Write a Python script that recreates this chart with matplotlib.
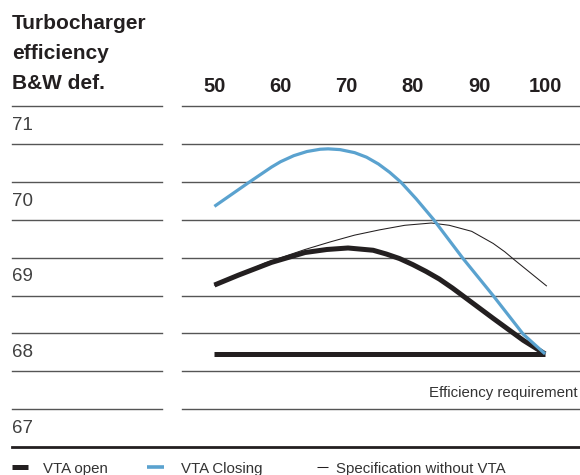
import matplotlib.pyplot as plt

plt.rcParams['font.family'] = ['Liberation Sans', 'DejaVu Sans']

# load (%) on x, turbocharger efficiency on y
load_ticks = [50, 60, 70, 80, 90, 100]
eff_labels = [71, 70, 69, 68, 67]
grid_levels = [71.25, 70.75, 70.25, 69.75, 69.25, 68.75, 68.25, 67.75, 67.25]

vta_open_x = [50, 53.6, 58.65, 63.7, 67, 70.2, 74, 76, 78, 80, 82, 84, 86, 88, 92.15, 96.7, 100]
vta_open_y = [68.89, 69.02, 69.19, 69.32, 69.36, 69.38, 69.35, 69.30, 69.24, 69.16, 69.07, 68.97, 68.85, 68.72, 68.45, 68.16, 67.98]

vta_closing_x = [50, 55.1, 58.65, 60, 62, 64, 66, 67.2, 69, 71.2, 73, 74.8, 76.5, 78.2, 80.5, 83.1, 87.6, 92.15, 96.7, 100]
vta_closing_y = [69.93, 70.24, 70.45, 70.52, 70.60, 70.655, 70.685, 70.69, 70.68, 70.64, 70.58, 70.49, 70.38, 70.25, 70.03, 69.76, 69.24, 68.75, 68.24, 67.98]

spec_x = [50, 53.6, 57.6, 63.7, 67.5, 71.2, 75, 78.8, 82.8, 85.5, 88.9, 92.15, 93.9, 95.4, 100.2]
spec_y = [68.89, 69.02, 69.18, 69.36, 69.46, 69.55, 69.62, 69.68, 69.71, 69.68, 69.60, 69.44, 69.33, 69.22, 68.88]

req_x = [50, 100]
req_y = [67.98, 67.98]

BLACK = '#231f20'
BLUE = '#5aa2cf'
GRID = '#555555'

W, H = 580, 475
px50, px_unit = 214.4, 6.614
py71, py_unit = 125.4, 75.67

fig = plt.figure(figsize=(W / 100, H / 100), dpi=100)
ax = fig.add_axes([0, 0, 1, 1])
ax.set_xlim(50 - px50 / px_unit, 50 + (W - px50) / px_unit)
ax.set_ylim(71 - (H - py71) / py_unit, 71 + py71 / py_unit)
ax.axis('off')

blend = ax.get_yaxis_transform()

# horizontal rules: left column and plot area
for g in grid_levels:
    ax.plot([11.7 / W, 162 / W], [g, g], transform=blend, color=GRID, lw=1.0, clip_on=False)
    ax.plot([181.7 / W, 1.0], [g, g], transform=blend, color=GRID, lw=1.0, clip_on=False)
ax.plot([11.7 / W, 1.0], [66.75, 66.75], transform=blend, color=BLACK, lw=2.0, clip_on=False)

for v in eff_labels:
    ax.text(11.7 / W, v, str(v), transform=blend, va='center', ha='left',
            fontsize=13.5, color='#404040')

for t in load_ticks:
    ax.text(t, 71.52, str(t), ha='center', va='center', fontsize=14.5,
            fontweight='bold', color=BLACK)

for i, line in enumerate(['Turbocharger', 'efficiency', 'B&W def.']):
    fig.text(11.7 / W, 1 - (29.3 + 30 * i) / H, line, ha='left', va='baseline',
             fontsize=15, fontweight='bold', color=BLACK)

# curves
ax.plot(req_x, req_y, color=BLACK, lw=3.6, solid_capstyle='butt')
ax.plot(spec_x, spec_y, color=BLACK, lw=0.75)
ax.plot(vta_open_x, vta_open_y, color=BLACK, lw=3.6, solid_capstyle='butt', solid_joinstyle='round')
ax.plot(vta_closing_x, vta_closing_y, color=BLUE, lw=2.3, solid_capstyle='butt', solid_joinstyle='round')

ax.text(577.7 / W, 67.47, 'Efficiency requirement', transform=blend, ha='right',
        va='center', fontsize=10.8, color='#333333')

# legend along the bottom
legend_items = [('VTA open', BLACK, 3.6, 12, 28, 43),
                ('VTA Closing', BLUE, 2.6, 147, 164, 181),
                ('Specification without VTA', BLACK, 0.75, 317, 328, 336)]
ly = 1 - 467 / H
for label, col, lw, x0, x1, tx in legend_items:
    ax.plot([x0 / W, x1 / W], [ly, ly], transform=ax.transAxes, color=col, lw=lw,
            solid_capstyle='butt', clip_on=False)
    ax.text(tx / W, 1 - 473.5 / H, label, transform=ax.transAxes, ha='left',
            va='baseline', fontsize=10.8, color='#333333')

fig.savefig('out.png', dpi=100)
